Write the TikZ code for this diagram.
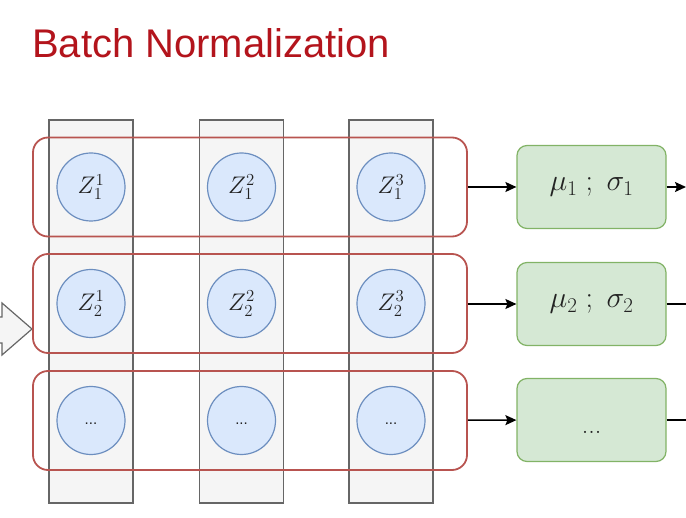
\RequirePackage{fix-cm}
\documentclass[tikz,border=0pt]{standalone}
\usepackage{fontspec}
\newfontfamily\titlefont{Liberation Sans}
\usetikzlibrary{arrows.meta}
\definecolor{titlered}{HTML}{B3141C}
\definecolor{colfill}{HTML}{F5F5F5}
\definecolor{colline}{HTML}{666666}
\definecolor{rowred}{HTML}{B85450}
\definecolor{bluefill}{HTML}{DAE8FC}
\definecolor{blueline}{HTML}{6C8EBF}
\definecolor{greenfill}{HTML}{D5E8D4}
\definecolor{greenline}{HTML}{82B366}
\definecolor{ink}{HTML}{222222}
\begin{document}
\begin{tikzpicture}[x=1pt,y=-1pt,
 colbox/.style={draw=colline, fill=colfill, line width=1.2pt, minimum width=84pt, minimum height=383pt, inner sep=0pt},
 rowbox/.style={draw=rowred, line width=1.8pt, rounded corners=15pt, minimum width=434pt, minimum height=99pt, inner sep=0pt},
 unit/.style={circle, draw=blueline, fill=bluefill, line width=1.2pt, minimum size=68pt, inner sep=0pt, text=ink, font=\fontsize{24}{28}\selectfont},
 udots/.style={anchor=base, inner sep=0pt, text=ink, font=\titlefont\fontsize{15}{18}\selectfont},
 stat/.style={draw=greenline, fill=greenfill, line width=1.2pt, rounded corners=10pt, minimum width=149pt, minimum height=83pt, inner sep=0pt, text=ink, font=\fontsize{30}{36}\selectfont},
 flow/.style={line width=1.5pt, -{Stealth[length=11pt,width=10pt,inset=2pt]}},
 plainline/.style={line width=1.5pt},
 bigarrow/.style={draw=colline, fill=colfill, line width=1.2pt},
]
\useasboundingbox (0,0) rectangle (686,518);

% title
\node[anchor=base west, inner sep=0pt, text=titlered, font=\titlefont\fontsize{40}{48}\selectfont] (title) at (32,58) {Batch Normalization};

% columns (feature dimensions)
\node[colbox] (col1) at (91,311.5) {};
\node[colbox] (col2) at (241.5,311.5) {};
\node[colbox] (col3) at (391,311.5) {};

% input hollow arrow
\draw[bigarrow] (-10,317) -- (2,317) -- (2,303) -- (32,329) -- (2,355) -- (2,343) -- (-10,343) -- cycle;

% rows (batch groups)
\node[rowbox] (r1) at (250,187) {};
\node[rowbox] (r2) at (250,303.5) {};
\node[rowbox] (r3) at (250,420.5) {};

% units
\node[unit] (c11) at (91,187) {$Z_1^1$};
\node[unit] (c12) at (241.5,187) {$Z_1^2$};
\node[unit] (c13) at (391,187) {$Z_1^3$};
\node[unit] (c21) at (91,303.5) {$Z_2^1$};
\node[unit] (c22) at (241.5,303.5) {$Z_2^2$};
\node[unit] (c23) at (391,303.5) {$Z_2^3$};
\node[unit] (c31) at (91,420.5) {};
\node[unit] (c32) at (241.5,420.5) {};
\node[unit] (c33) at (391,420.5) {};
\node[udots] (d31) at (91,425) {...};
\node[udots] (d32) at (241.5,425) {...};
\node[udots] (d33) at (391,425) {...};

% statistics boxes
\node[stat] (s1) at (591.5,187) {$\mu_1\;;\;\sigma_1$};
\node[stat] (s2) at (591.5,304) {$\mu_2\;;\;\sigma_2$};
\node[stat] (s3) at (591.5,420) {};
\node[anchor=base, inner sep=0pt, text=ink, font=\fontsize{26}{30}\selectfont] (d3) at (591.5,434) {...};

% connectors
\draw[flow] (r1) -- (s1);
\draw[flow] (r2.east |- s2) -- (s2);
\draw[flow] (r3) -- (s3);

\coordinate (o1) at (686,187);
\coordinate (o2) at (700,304);
\coordinate (o3) at (700,420);
\draw[flow] (s1) -- (o1);
\draw[plainline] (s2) -- (o2);
\draw[plainline] (s3) -- (o3);
\end{tikzpicture}
\end{document}
